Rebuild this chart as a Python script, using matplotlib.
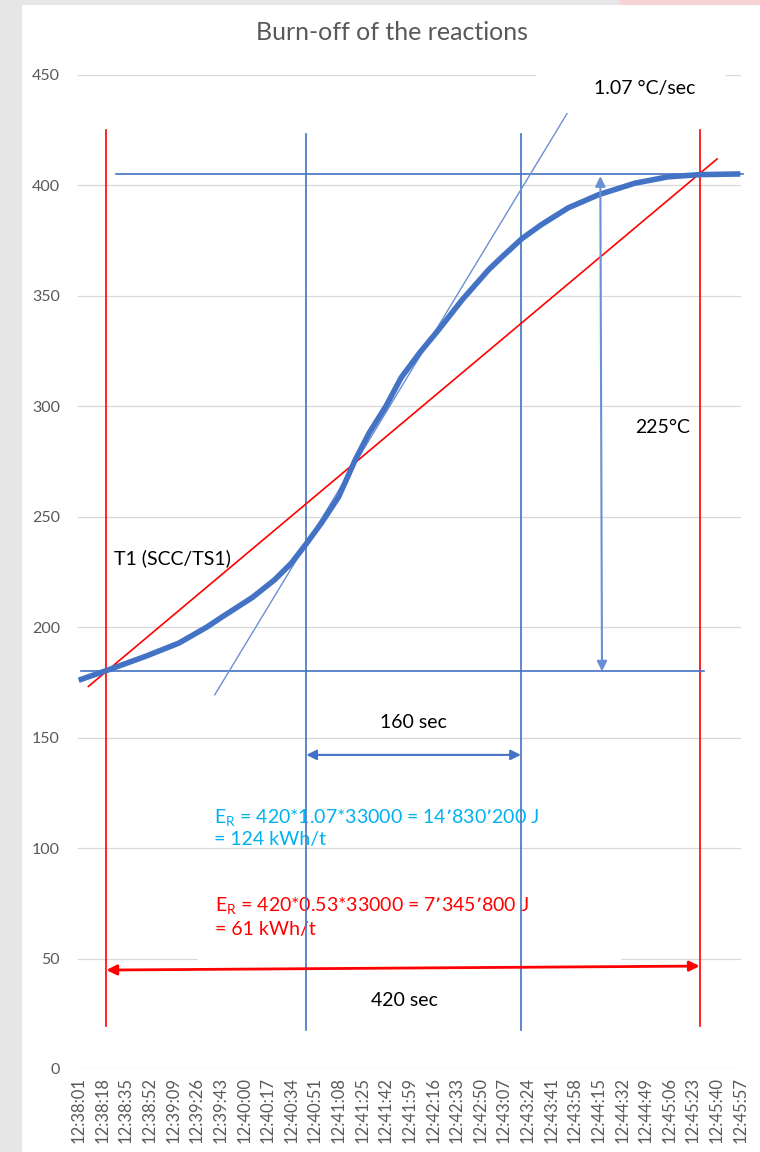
import matplotlib
matplotlib.use("Agg")
import matplotlib.pyplot as plt
from matplotlib.patches import Rectangle

plt.rcParams["font.family"] = ["Lato", "DejaVu Sans"]

# temperature curve T1 (SCC/TS1), seconds after 12:38:01
t_sec = [0, 20, 48, 72, 92, 104, 125, 141, 153, 164, 175, 187, 199, 209, 221,
         232, 245, 259, 276, 295, 305, 319, 333, 352, 374, 400, 424, 447, 476]
temp = [176, 180.4, 186.8, 192.8, 200, 205, 213.5, 221.5, 229, 238, 247.5, 259,
        275.8, 288, 300, 313, 324, 334.7, 348.3, 361.9, 367.9, 376, 382.3, 389.8,
        395.8, 401, 403.9, 404.9, 405.2]

tick_labels = ["12:38:01", "12:38:18", "12:38:35", "12:38:52", "12:39:09",
               "12:39:26", "12:39:43", "12:40:00", "12:40:17", "12:40:34",
               "12:40:51", "12:41:08", "12:41:25", "12:41:42", "12:41:59",
               "12:42:16", "12:42:33", "12:42:50", "12:43:07", "12:43:24",
               "12:43:41", "12:43:58", "12:44:15", "12:44:32", "12:44:49",
               "12:45:06", "12:45:23", "12:45:40", "12:45:57"]
tick_pos = [17 * i for i in range(len(tick_labels))]

# construction lines (start/end of the reaction, mean and max slope)
red_x = [19.9, 446.8]
blue_x = [163.8, 318.1]
mean_line_t = [7, 459.3]
mean_line_v = [173.2, 412]
tangent_t = [97.9, 351.3]
tangent_v = [169.4, 432.5]
t_start, t_end = 180, 405

BLUE = "#4472C4"
RED = "#FF0000"
CYAN = "#00B0F0"
GRAY = "#595959"

fig = plt.figure(figsize=(7.6, 11.52), dpi=100, facecolor="#e6e6e6")
fig.patches.append(Rectangle((22 / 760, 0), 1, 1 - 5 / 1152, transform=fig.transFigure,
                             facecolor="white", edgecolor="none", zorder=-2))
fig.patches.append(Rectangle((620 / 760, 1 - 5 / 1152), 1, 1, transform=fig.transFigure,
                             facecolor="#f8d3d6", edgecolor="none", zorder=-2))
ax = fig.add_axes([78 / 760, 1 - 1069 / 1152, 663 / 760, 994 / 1152])
ax.set_facecolor("none")
ax.set_zorder(1)

ax.set_xlim(-0.5, 476.5)
ax.set_ylim(0, 450)
ax.set_yticks(range(0, 451, 50))
ax.set_xticks(tick_pos)
ax.set_xticklabels(tick_labels, rotation=90, fontsize=12, color=GRAY)
ax.tick_params(axis="y", length=0, pad=13, labelsize=11.5, labelcolor=GRAY)
ax.tick_params(axis="x", length=0, pad=6)
ax.grid(axis="y", color="#d9d9d9", lw=0.9, zorder=0)
ax.set_axisbelow(True)
for s in ax.spines.values():
    s.set_visible(False)

# white text boxes that hide the gridlines behind them
ax.add_patch(Rectangle((329, 437), 137, 22, facecolor="white", edgecolor="none",
                       zorder=1, clip_on=False))
ax.add_patch(Rectangle((86, 48), 304.5, 37, facecolor="white", edgecolor="none",
                       zorder=1))

ax.plot(t_sec, temp, color=BLUE, lw=4, zorder=5, solid_capstyle="butt")

for x in red_x:
    ax.plot([x, x], [19.5, 425], color=RED, lw=1.2, zorder=4)
for x in blue_x:
    ax.plot([x, x], [17.7, 423.5], color=BLUE, lw=1.2, zorder=4)
ax.plot([27, 478], [t_end, t_end], color=BLUE, lw=1.2, zorder=4, clip_on=False)
ax.plot([2, 450], [t_start, t_start], color=BLUE, lw=1.2, zorder=4)
ax.plot(mean_line_t, mean_line_v, color=RED, lw=1.2, zorder=4)
ax.plot(tangent_t, tangent_v, color="#6b8fd4", lw=1.0, zorder=4)

arrow = dict(arrowstyle="<|-|>", mutation_scale=15, shrinkA=0, shrinkB=0)
ax.annotate("", xy=(375.3, 404.2), xytext=(376.5, t_start),
            arrowprops=dict(arrow, color="#6b8fd4", lw=1.5), zorder=6)
ax.annotate("", xy=(blue_x[0], 142.2), xytext=(blue_x[1], 142.2),
            arrowprops=dict(arrow, color=BLUE, lw=1.5), zorder=6)
ax.annotate("", xy=(red_x[0], 44.8), xytext=(red_x[1], 46.6),
            arrowprops=dict(arrow, color=RED, lw=2), zorder=6)

fig.text(392 / 760, 1 - 33 / 1152, "Burn-off of the reactions", fontsize=18,
         color=GRAY, ha="center", va="center")

txt = dict(fontsize=14, zorder=3)
ax.text(371, 444, "1.07 °C/sec", ha="left", va="center", color="black", **txt)
ax.text(400.5, 290.6, "225°C", ha="left", va="center", color="black", **txt)
ax.text(25.7, 231.3, "T1 (SCC/TS1)", ha="left", va="center", color="black", **txt)
ax.text(240.8, 157, "160 sec", ha="center", va="center", color="black", **txt)
ax.text(234.3, 30.8, "420 sec", ha="center", va="center", color="black", **txt)
ax.text(97, 114, r"$\mathregular{E_R}$ = 420*1.07*33000 = 14’830’200 J",
        ha="left", va="center", color=CYAN, **txt)
ax.text(97, 103.7, "= 124 kWh/t", ha="left", va="center", color=CYAN, **txt)
ax.text(98.4, 73.8, r"$\mathregular{E_R}$ = 420*0.53*33000 = 7’345’800 J",
        ha="left", va="center", color=RED, **txt)
ax.text(98.4, 63, "= 61 kWh/t", ha="left", va="center", color=RED, **txt)

fig.savefig("out.png", dpi=100, facecolor=fig.get_facecolor())
